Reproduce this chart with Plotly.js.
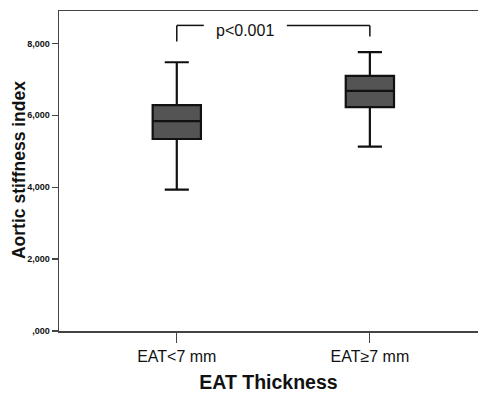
<!DOCTYPE html>
<html><head><meta charset="utf-8">
<script src="https://cdn.plot.ly/plotly-3.0.1.min.js"></script>
<style>html,body{margin:0;padding:0;background:#fff}</style>
</head><body><div id="chart" style="width:478px;height:393px"></div>
<script>
const categories = ["EAT<7 mm", "EAT\u22657 mm"];
const lowerWhisker = [3930, 5130];
const q1Values = [5340, 6225];
const medianValues = [5835, 6680];
const q3Values = [6280, 7095];
const upperWhisker = [7475, 7755];
const yTickVals = [0, 2000, 4000, 6000, 8000];
const yTickText = [",000", "2,000", "4,000", "6,000", "8,000"];
const pLabel = "p<0.001";
const yTitle = "Aortic stiffness index";

const trace = {
  type: "box",
  x: categories,
  q1: q1Values,
  median: medianValues,
  q3: q3Values,
  lowerfence: lowerWhisker,
  upperfence: upperWhisker,
  width: 0.25,
  whiskerwidth: 0.5,
  fillcolor: "#545454",
  line: {color: "#111111", width: 2.2},
  hoverinfo: "skip"
};

const layout = {
  width: 478, height: 393,
  margin: {l: 59, r: 0, t: 11, b: 62},
  paper_bgcolor: "#fff", plot_bgcolor: "#fff",
  showlegend: false,
  font: {family: "Liberation Sans, Arial, sans-serif", color: "#111"},
  xaxis: {
    type: "category",
    range: [-0.61, 1.56],
    showline: true, linecolor: "#444", linewidth: 1.5, mirror: true,
    ticks: "outside", ticklen: 10, tickwidth: 1.2, tickcolor: "#444",
    showgrid: false, zeroline: false,
    tickfont: {size: 16, color: "#111"},
    title: {text: "EAT Thickness", font: {size: 19.5, weight: "bold", color: "#111"}, standoff: 15}
  },
  yaxis: {
    range: [0, 8900],
    tickvals: yTickVals, ticktext: yTickText,
    showline: true, linecolor: "#444", linewidth: 1.5,
    ticks: "outside", ticklen: 6, tickwidth: 1.2, tickcolor: "#444",
    showgrid: false, zeroline: false,
    tickfont: {size: 9, weight: "bold", color: "#111"}
  },
  shapes: [
    {type: "line", xref: "x", yref: "paper", x0: 0, x1: 0, y0: 0.905, y1: 0.955, line: {color: "#111", width: 1.5}},
    {type: "line", xref: "x", yref: "paper", x0: 0, x1: 0.14, y0: 0.955, y1: 0.955, line: {color: "#111", width: 1.5}},
    {type: "line", xref: "x", yref: "paper", x0: 0.57, x1: 1, y0: 0.955, y1: 0.955, line: {color: "#111", width: 1.5}},
    {type: "line", xref: "x", yref: "paper", x0: 1, x1: 1, y0: 0.955, y1: 0.92, line: {color: "#111", width: 1.5}}
  ],
  annotations: [
    {xref: "x", yref: "paper", x: 0.355, y: 0.94, text: pLabel, showarrow: false,
     font: {size: 16, color: "#111"}, yanchor: "middle"},
    {xref: "paper", yref: "paper", x: -0.0955, y: 0.503, text: yTitle, textangle: -90,
     showarrow: false, xanchor: "center", yanchor: "middle",
     font: {size: 17.5, weight: "bold", color: "#111"}}
  ]
};

Plotly.newPlot("chart", [trace], layout, {displayModeBar: false, staticPlot: true});
</script></body></html>
